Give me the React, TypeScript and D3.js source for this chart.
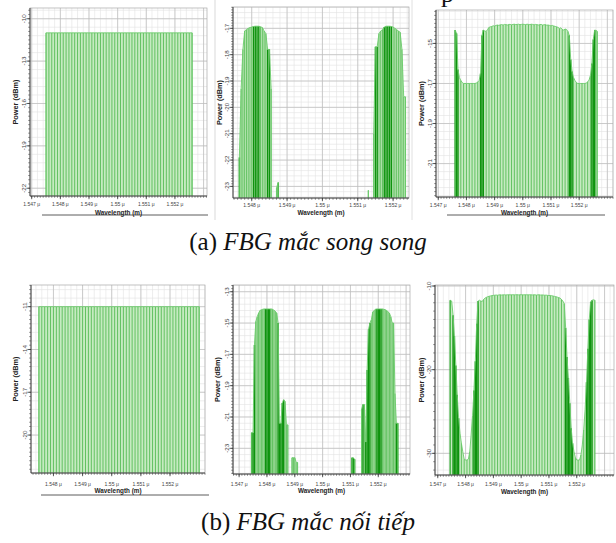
import React from "react";
import * as d3 from "d3";

// ---------------- data (wavelength in nm, power in dBm) ----------------
const X_TICKS = [1547, 1548, 1549, 1550, 1551, 1552];

// (a) parallel FBG
const A1_Y_TICKS = [-10, -13, -16, -19, -22];
const A1_START = 1547.5;
const A1_STEP = 0.1;
const A1_POWER = [
  -11, -11, -11, -11, -11, -11, -11, -11, -11, -11, -11, -11, -11, -11, -11, -11, -11, -11,
  -11, -11, -11, -11, -11, -11, -11, -11, -11, -11, -11, -11, -11, -11, -11, -11, -11, -11,
  -11, -11, -11, -11, -11, -11, -11, -11, -11, -11, -11, -11, -11, -11, -11, -11,
];

const A2_Y_TICKS = [-17, -18, -19, -20, -21, -22, -23];
const A2_LEFT_START = 1547.65;
const A2_LEFT_POWER = [
  -21.9, -19.3, -17.8, -17.1, -17.05, -17.0, -16.97, -16.95, -16.93, -16.92, -16.92, -16.92,
  -16.94, -16.97, -17.1, -17.2, -17.8, -17.8, -19.3, null, null, -23.05, -22.85,
];
const A2_RIGHT_START = 1551.3;
const A2_RIGHT_POWER = [
  -23.15, null, null, -21.0, -17.7, -17.7, -17.2, -17.1, -17.05, -16.95, -16.92, -16.92, -16.92,
  -16.93, -16.95, -17.0, -17.05, -17.1, -17.15, -17.8, -19.6, -19.6,
];
const A2_DARK: [number, number][] = [
  [1547.64, 1547.66], [1548.04, 1548.21], [1548.44, 1548.51], [1548.74, 1548.76],
  [1551.49, 1551.56], [1551.74, 1551.96],
];

const A3_Y_TICKS = [-15, -17, -19, -21];
const A3_START = 1547.6;
const A3_POWER = [
  -14.33, -14.5, -16.3, -16.7, -16.85, -16.95, -17.0, -17.0, -17.0, -17.0, -17.0, -17.0, -17.0,
  -17.0, -17.0, -16.98, -16.93, -16.85, -16.5, -14.6, -14.33, -14.38, -14.4, -14.3, -14.2, -14.17,
  -14.15, -14.12, -14.13, -14.1, -14.08, -14.1, -14.07, -14.06, -14.08, -14.05, -14.06, -14.08,
  -14.05, -14.05, -14.07, -14.05, -14.04, -14.06, -14.05, -14.04, -14.06, -14.05, -14.04, -14.05,
  -14.06, -14.04, -14.05, -14.06, -14.04, -14.05, -14.07, -14.05, -14.06, -14.08, -14.06, -14.05,
  -14.08, -14.07, -14.06, -14.09, -14.08, -14.1, -14.12, -14.1, -14.13, -14.15, -14.17, -14.2,
  -14.25, -14.22, -14.3, -14.33, -14.28, -14.3, -14.4, -14.6, -15.8, -16.4, -16.7, -16.85, -16.95,
  -17.0, -17.0, -17.0, -17.0, -17.0, -17.0, -16.98, -16.92, -16.83, -16.6, -16.0, -14.8, -14.33,
  -14.35, -14.4,
];
const A3_DARK: [number, number][] = [
  [1547.59, 1547.71], [1548.49, 1548.61], [1551.64, 1551.76], [1552.44, 1552.56],
];

// (b) series FBG
const B1_Y_TICKS = [-11, -14, -17, -20];
const B1_START = 1547.5;
const B1_STEP = 0.1;
const B1_POWER = [
  -11, -11, -11, -11, -11, -11, -11, -11, -11, -11, -11, -11, -11, -11, -11, -11, -11, -11, -11,
  -11, -11, -11, -11, -11, -11, -11, -11, -11, -11, -11, -11, -11, -11, -11, -11, -11, -11, -11,
  -11, -11, -11, -11, -11, -11, -11, -11, -11, -11, -11, -11, -11, -11, -11, -11, -11, -11,
];

const B2_Y_TICKS = [-13, -15, -17, -19, -21, -23];
const B2_LEFT_START = 1547.45;
const B2_LEFT_POWER = [
  -22.0, -22.0, -16.4, -14.9, -14.6, -14.36, -14.2, -14.15, -14.12, -14.1, -14.1, -14.1, -14.1,
  -14.1, -14.1, -14.12, -14.18, -14.25, -14.36, -15.0, -21.4, -21.4, -20.1, -19.9, -20.0, -21.5,
  -21.5, null, null, -23.6, -23.6, -23.6, -23.9, -23.9,
];
const B2_RIGHT_START = 1551.05;
const B2_RIGHT_POWER = [
  -23.6, -23.6, -23.7, null, null, null, null, -20.5, -20.2, -20.2, -22.6, -18.0, -15.4, -15.0,
  -14.8, -14.3, -14.2, -14.12, -14.1, -14.1, -14.1, -14.1, -14.1, -14.12, -14.15, -14.2, -14.28,
  -14.36, -14.6, -15.0, -15.0, -19.5, -21.4, -21.4,
];
const B2_DARK: [number, number][] = [
  [1547.44, 1547.56], [1547.94, 1548.11], [1548.39, 1548.51], [1548.54, 1548.61],
  [1551.04, 1551.16], [1551.44, 1551.46], [1551.54, 1551.71], [1551.94, 1552.11], [1552.64, 1552.71],
];

const B3_Y_TICKS = [-10, -20, -30];
const B3_START = 1547.45;
const B3_POWER = [
  -11.7, -11.8, -13.5, -16.0, -19.5, -23.0, -25.8, -27.6, -28.8, -29.8, -30.7, -30.8, -30.8,
  -30.7, -29.8, -27.8, -25.5, -22.5, -19.0, -14.5, -11.8, -11.7, -11.8, -11.85, -11.6, -11.45,
  -11.35, -11.28, -11.22, -11.18, -11.15, -11.12, -11.1, -11.08, -11.1, -11.07, -11.05, -11.08,
  -11.06, -11.05, -11.07, -11.05, -11.04, -11.06, -11.05, -11.04, -11.06, -11.05, -11.04, -11.06,
  -11.05, -11.04, -11.05, -11.06, -11.04, -11.05, -11.06, -11.04, -11.05, -11.07, -11.05, -11.06,
  -11.08, -11.06, -11.05, -11.08, -11.07, -11.08, -11.1, -11.09, -11.12, -11.14, -11.13, -11.16,
  -11.2, -11.24, -11.28, -11.33, -11.38, -11.45, -11.6, -11.8, -12.1, -15.0, -18.5, -21.0, -24.0,
  -27.0, -28.8, -29.8, -30.5, -30.8, -30.8, -30.8, -30.2, -29.0, -27.2, -24.8, -21.5, -17.5,
  -14.0, -11.9, -11.7, -11.65, -11.7,
];
const B3_DARK: [number, number][] = [
  [1547.44, 1547.46], [1547.54, 1547.76], [1548.29, 1548.46], [1551.59, 1551.86],
  [1552.34, 1552.56],
];

const CAPTION_A = ["(a) ", "FBG mắc song song"];
const CAPTION_B = ["(b) ", "FBG mắc nối tiếp"];

// ---------------- layout ----------------
type Series = { start: number; step: number; values: (number | null)[] };
type Cfg = {
  x0: number; x1: number; y0: number; y1: number;
  xDom: [number, number]; yDom: [number, number];
  yTicks: number[]; series: Series[]; dark: [number, number][]; every: number;
  labelY: number; titleY: number; yTitleOff: number;
};

const PANELS: Cfg[] = [
  { x0: 30, x1: 207, y0: 8, y1: 196, xDom: [1546.94, 1553.12], yDom: [-22.55, -9.24],
    yTicks: A1_Y_TICKS, series: [{ start: A1_START, step: A1_STEP, values: A1_POWER }],
    dark: [], every: 1, labelY: 204, titleY: 212.5, yTitleOff: 14 },
  { x0: 233, x1: 409, y0: 7, y1: 198, xDom: [1547.47, 1552.45], yDom: [-23.44, -16.19],
    yTicks: A2_Y_TICKS,
    series: [
      { start: A2_LEFT_START, step: 0.05, values: A2_LEFT_POWER },
      { start: A2_RIGHT_START, step: 0.05, values: A2_RIGHT_POWER },
    ],
    dark: A2_DARK, every: 1, labelY: 204.5, titleY: 213, yTitleOff: 13 },
  { x0: 436, x1: 613, y0: 10, y1: 197, xDom: [1546.92, 1553.2], yDom: [-22.67, -13.33],
    yTicks: A3_Y_TICKS, series: [{ start: A3_START, step: 0.05, values: A3_POWER }],
    dark: A3_DARK, every: 2, labelY: 204.5, titleY: 212.5, yTitleOff: 14 },
  { x0: 31, x1: 205, y0: 285, y1: 473, xDom: [1547.23, 1553.2], yDom: [-22.66, -9.48],
    yTicks: B1_Y_TICKS, series: [{ start: B1_START, step: B1_STEP, values: B1_POWER }],
    dark: [], every: 1, labelY: 483.5, titleY: 491, yTitleOff: 15.5 },
  { x0: 233, x1: 410, y0: 285, y1: 474, xDom: [1546.78, 1553.14], yDom: [-24.64, -12.57],
    yTicks: B2_Y_TICKS,
    series: [
      { start: B2_LEFT_START, step: 0.05, values: B2_LEFT_POWER },
      { start: B2_RIGHT_START, step: 0.05, values: B2_RIGHT_POWER },
    ],
    dark: B2_DARK, every: 1, labelY: 484, titleY: 491, yTitleOff: 15 },
  { x0: 435, x1: 614, y0: 285, y1: 475, xDom: [1546.9, 1553.34], yDom: [-32.59, -9.88],
    yTicks: B3_Y_TICKS, series: [{ start: B3_START, step: 0.05, values: B3_POWER }],
    dark: B3_DARK, every: 2, labelY: 484, titleY: 491.5, yTitleOff: 13.5 },
];

const FILL = "#c6ebc1";
const LINE = "#49b649";
const DARK = "#0e930e";
const OUTLINE = "#6ccc6c";
const SANS = "'Liberation Sans', Arial, sans-serif";
const SERIF = "'Liberation Serif', 'Times New Roman', serif";

type Pt = { w: number; v: number };

function Panel({ c, id }: { c: Cfg; id: string }) {
  const x = d3.scaleLinear().domain(c.xDom).range([c.x0, c.x1]);
  const y = d3.scaleLinear().domain(c.yDom).range([c.y1, c.y0]);
  const base = c.y1;
  const yStep = Math.abs(c.yTicks[1] - c.yTicks[0]);

  // grid positions
  const kx0 = Math.ceil(c.xDom[0] / 0.2 - 1e-6), kx1 = Math.floor(c.xDom[1] / 0.2 + 1e-6);
  const xMinor = d3.range(kx0, kx1 + 1).map((k) => k * 0.2);
  const kt0 = Math.ceil(c.xDom[0] / 0.1 - 1e-6), kt1 = Math.floor(c.xDom[1] / 0.1 + 1e-6);
  const xTickMinor = d3.range(kt0, kt1 + 1).map((k) => k * 0.1);
  const ym = yStep / 5;
  const yMinor: number[] = [];
  const yTickMinor: number[] = [];
  for (let k = -60; k <= 60; k++) {
    const v = c.yTicks[0] + k * ym;
    if (v >= c.yDom[0] && v <= c.yDom[1]) yMinor.push(v);
    const t = c.yTicks[0] + (k * yStep) / 10;
    if (t >= c.yDom[0] && t <= c.yDom[1]) yTickMinor.push(t);
  }
  const xTicks = X_TICKS.filter((t) => t >= c.xDom[0] && t <= c.xDom[1]);

  const area = d3.area<Pt>().x((d) => x(d.w)).y0(base).y1((d) => y(d.v));
  const line = d3.line<Pt>().x((d) => x(d.w)).y((d) => y(d.v));

  const runs: Pt[][] = [];
  const sticks: { p: Pt; dark: boolean }[] = [];
  c.series.forEach((s) => {
    let cur: Pt[] = [];
    s.values.forEach((v, i) => {
      if (v === null) {
        if (cur.length) runs.push(cur);
        cur = [];
        return;
      }
      const p = { w: s.start + i * s.step, v };
      cur.push(p);
      const dark = c.dark.some(([a, b]) => p.w >= a && p.w <= b);
      if (dark || i % c.every === 0) sticks.push({ p, dark });
    });
    if (cur.length) runs.push(cur);
  });

  const clipId = `clip-${id}`;
  const midX = (c.x0 + c.x1) / 2;
  const midY = (c.y0 + c.y1) / 2;

  return (
    <g>
      <defs>
        <clipPath id={clipId}>
          <rect x={c.x0} y={c.y0} width={c.x1 - c.x0} height={c.y1 - c.y0} />
        </clipPath>
      </defs>
      <rect x={c.x0} y={c.y0} width={c.x1 - c.x0} height={c.y1 - c.y0} fill="#fff" />
      {/* minor grid */}
      {xMinor.map((w, i) => (
        <line key={`xm${i}`} x1={x(w)} x2={x(w)} y1={c.y0} y2={c.y1} stroke="#e2e2e2" strokeWidth={0.6} />
      ))}
      {yMinor.map((v, i) => (
        <line key={`ym${i}`} x1={c.x0} x2={c.x1} y1={y(v)} y2={y(v)} stroke="#e2e2e2" strokeWidth={0.6} />
      ))}
      {/* major grid */}
      {X_TICKS.filter((t) => t > c.xDom[0] && t < c.xDom[1]).concat([1553].filter((t) => t < c.xDom[1])).map((w, i) => (
        <line key={`xM${i}`} x1={x(w)} x2={x(w)} y1={c.y0} y2={c.y1} stroke="#bcbcbc" strokeWidth={0.7} />
      ))}
      {c.yTicks.map((v, i) => (
        <line key={`yM${i}`} x1={c.x0} x2={c.x1} y1={y(v)} y2={y(v)} stroke="#bcbcbc" strokeWidth={0.7} />
      ))}
      {/* spectrum */}
      <g clipPath={`url(#${clipId})`}>
        {runs.map((r, i) => (
          <path key={`a${i}`} d={area(r) || ""} fill={FILL} />
        ))}
        {sticks.filter((s) => !s.dark).map((s, i) => (
          <line key={`s${i}`} x1={x(s.p.w)} x2={x(s.p.w)} y1={base} y2={y(s.p.v)} stroke={LINE} strokeWidth={0.8} />
        ))}
        {sticks.filter((s) => s.dark).map((s, i) => (
          <line key={`d${i}`} x1={x(s.p.w)} x2={x(s.p.w)} y1={base} y2={y(s.p.v)} stroke={DARK} strokeWidth={1.4} />
        ))}
        {runs.map((r, i) => (
          <path
            key={`o${i}`}
            d={`M${x(r[0].w)},${base}L${(line(r) || "").slice(1)}L${x(r[r.length - 1].w)},${base}`}
            fill="none"
            stroke={OUTLINE}
            strokeWidth={0.9}
          />
        ))}
      </g>
      {/* frame */}
      <rect x={c.x0} y={c.y0} width={c.x1 - c.x0} height={c.y1 - c.y0} fill="none" stroke="#a8a8a8" strokeWidth={0.7} />
      <line x1={c.x0} x2={c.x0} y1={c.y0} y2={c.y1} stroke="#333" strokeWidth={0.9} />
      <line x1={c.x0} x2={c.x1} y1={c.y1} y2={c.y1} stroke="#333" strokeWidth={0.9} />
      {/* axis ticks */}
      {yTickMinor.map((v, i) => (
        <line key={`yt${i}`} x1={c.x0 - 1.8} x2={c.x0} y1={y(v)} y2={y(v)} stroke="#444" strokeWidth={0.6} />
      ))}
      {c.yTicks.map((v, i) => (
        <line key={`yT${i}`} x1={c.x0 - 3.5} x2={c.x0} y1={y(v)} y2={y(v)} stroke="#333" strokeWidth={0.8} />
      ))}
      {xTickMinor.map((w, i) => (
        <line key={`xt${i}`} x1={x(w)} x2={x(w)} y1={c.y1} y2={c.y1 + 1.8} stroke="#444" strokeWidth={0.6} />
      ))}
      {xTicks.map((w, i) => (
        <line key={`xT${i}`} x1={x(w)} x2={x(w)} y1={c.y1} y2={c.y1 + 3.2} stroke="#333" strokeWidth={0.8} />
      ))}
      {/* tick labels */}
      {xTicks.map((w, i) => {
        const label = `${w / 1000} μ`;
        return (
          <text key={`xl${i}`} x={x(w)} y={c.labelY + 2.2} textAnchor="middle" fontFamily={SANS} fontSize={6}
            fill="#444" textLength={label.length * 2.4} lengthAdjust="spacingAndGlyphs">
            {label}
          </text>
        );
      })}
      {c.yTicks.map((v, i) => (
        <text key={`yl${i}`} transform={`translate(${c.x0 - 4},${y(v)}) rotate(-90)`} textAnchor="middle"
          fontFamily={SANS} fontSize={6.2} fill="#444">
          {`${v}`}
        </text>
      ))}
      <text x={midX} y={c.titleY + 2.3} textAnchor="middle" fontFamily={SANS} fontSize={7} fontWeight="bold"
        fill="#222" textLength={47} lengthAdjust="spacingAndGlyphs">
        Wavelength (m)
      </text>
      <text transform={`translate(${c.x0 - c.yTitleOff + 2.4},${midY}) rotate(-90)`} textAnchor="middle"
        fontFamily={SANS} fontSize={7} fontWeight="bold" fill="#222" textLength={45} lengthAdjust="spacingAndGlyphs">
        Power (dBm)
      </text>
    </g>
  );
}

export default function App() {
  return (
    <svg width={616} height={543} viewBox="0 0 616 543"
      style={{ position: "absolute", left: 0, top: 0, display: "block", background: "#fff" }}>
      <rect x={0} y={0} width={616} height={543} fill="#fff" />
      {/* tail of a letter from the text above */}
      <text x={441} y={2} fontFamily={SERIF} fontSize={26} fill="#111">p</text>
      {PANELS.map((c, i) => (
        <Panel key={i} c={c} id={`p${i}`} />
      ))}
      {/* separators and rules from the page */}
      <line x1={215} x2={215} y1={0} y2={220} stroke="#cfcfcf" strokeWidth={0.8} />
      <line x1={412} x2={412} y1={0} y2={220} stroke="#d8d8d8" strokeWidth={0.8} />
      <line x1={42} x2={208} y1={215} y2={215} stroke="#333" strokeWidth={0.8} />
      <line x1={447} x2={605} y1={215} y2={215} stroke="#333" strokeWidth={0.8} />
      <line x1={41} x2={209} y1={495} y2={495} stroke="#333" strokeWidth={0.8} />
      {/* captions */}
      <text x={308} y={250} textAnchor="middle" fontFamily={SERIF} fontSize={25} fill="#111">
        {CAPTION_A[0]}
        <tspan fontStyle="italic">{CAPTION_A[1]}</tspan>
      </text>
      <text x={308} y={530} textAnchor="middle" fontFamily={SERIF} fontSize={25} fill="#111">
        {CAPTION_B[0]}
        <tspan fontStyle="italic">{CAPTION_B[1]}</tspan>
      </text>
    </svg>
  );
}
